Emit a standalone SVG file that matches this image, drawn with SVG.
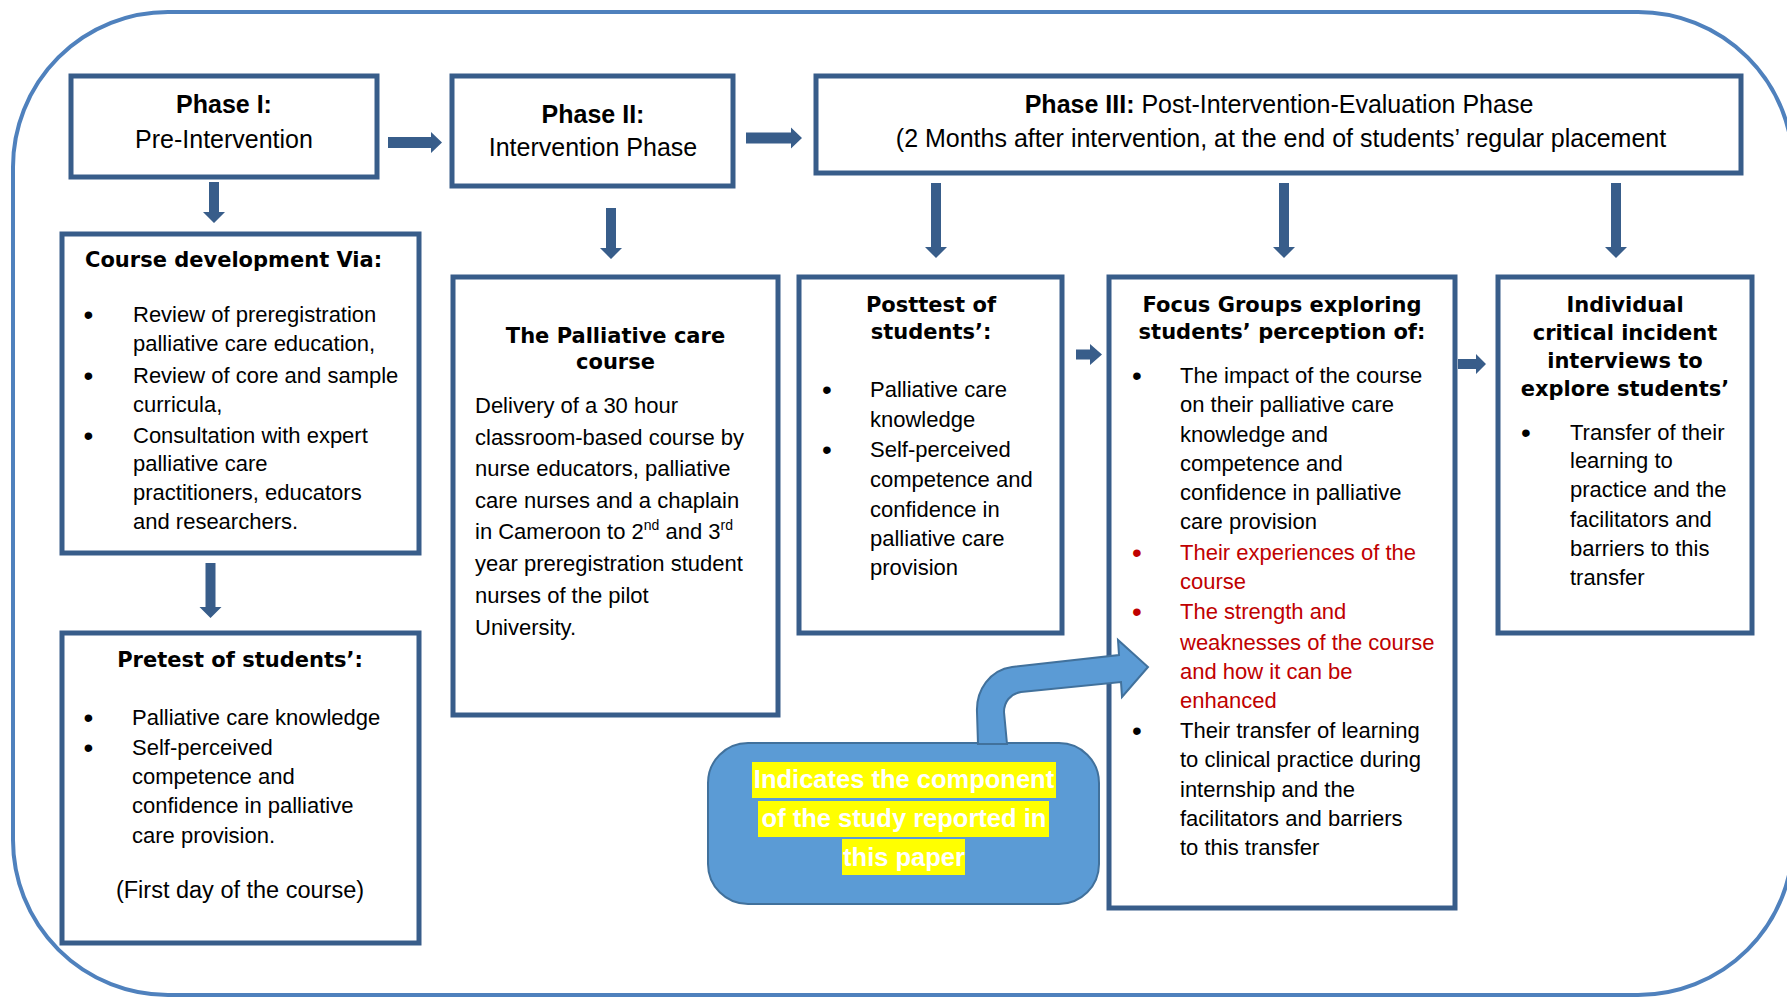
<svg xmlns="http://www.w3.org/2000/svg" width="1787" height="997" viewBox="0 0 1787 997">
<style>
.box{fill:#ffffff;stroke:#385d8a;stroke-width:5}
.arr{fill:#385d8a;stroke:none}
.ph{font-family:"Liberation Sans",Arial,sans-serif;font-size:25px;fill:#000;text-anchor:middle}
.phb{font-weight:bold}
.hd{font-family:"DejaVu Sans",Verdana,sans-serif;font-weight:bold;font-size:21px;fill:#000}
.c{text-anchor:middle}
.tx{font-family:"Liberation Sans",Arial,sans-serif;font-size:22px;fill:#000}
.bu{font-size:28px}
.red{fill:#c00000}
.cal{font-family:"Liberation Sans",Arial,sans-serif;font-weight:bold;font-size:25.5px;fill:#ffffff;text-anchor:middle}
.hl{fill:#ffff00}
</style>
<rect x="0" y="0" width="1787" height="997" fill="#ffffff"/>
<rect id="frame" x="13" y="12" width="1780" height="983" rx="155" ry="155" fill="none" stroke="#4f81bd" stroke-width="4"/>

<g id="phase1">
  <rect class="box" x="71" y="76" width="306" height="101"/>
  <text class="ph phb" x="224" y="113">Phase I:</text>
  <text class="ph" x="224" y="148">Pre-Intervention</text>
</g>

<g id="phase2">
  <rect class="box" x="452" y="76" width="281" height="110"/>
  <text class="ph phb" x="593" y="123">Phase II:</text>
  <text class="ph" x="593" y="156">Intervention Phase</text>
</g>

<g id="phase3">
  <rect class="box" x="816" y="76" width="925" height="97"/>
  <text class="ph" x="1279" y="113"><tspan font-weight="bold">Phase III:</tspan> Post-Intervention-Evaluation Phase</text>
  <text class="ph" x="1281" y="147">(2 Months after intervention, at the end of students’ regular placement</text>
</g>

<g id="course-development">
  <rect class="box" x="62" y="234" width="357" height="319"/>
  <text class="hd" x="85" y="267">Course development Via:</text>
  <g class="tx">
    <text class="bu" x="83.6" y="324">•</text>
    <text x="133" y="322">Review of preregistration</text>
    <text x="133" y="351">palliative care education,</text>
    <text class="bu" x="83.6" y="384.5">•</text>
    <text x="133" y="382.5">Review of core and sample</text>
    <text x="133" y="412">curricula,</text>
    <text class="bu" x="83.6" y="444.5">•</text>
    <text x="133" y="442.5">Consultation with expert</text>
    <text x="133" y="471">palliative care</text>
    <text x="133" y="500">practitioners, educators</text>
    <text x="133" y="529">and researchers.</text>
  </g>
</g>

<g id="pretest">
  <rect class="box" x="62" y="633" width="357" height="310"/>
  <text class="hd c" x="240" y="667">Pretest of students’:</text>
  <g class="tx">
    <text class="bu" x="83.6" y="727">•</text>
    <text x="132" y="725">Palliative care knowledge</text>
    <text class="bu" x="83.6" y="757">•</text>
    <text x="132" y="755">Self-perceived</text>
    <text x="132" y="784">competence and</text>
    <text x="132" y="813">confidence in palliative</text>
    <text x="132" y="843">care provision.</text>
    <text x="240" y="898" text-anchor="middle" font-size="23.5">(First day of the course)</text>
  </g>
</g>

<g id="palliative-course">
  <rect class="box" x="453" y="277" width="325" height="438"/>
  <text class="hd c" x="615.5" y="343">The Palliative care</text>
  <text class="hd c" x="615.5" y="369">course</text>
  <g class="tx">
    <text x="475" y="413">Delivery of a 30 hour</text>
    <text x="475" y="445">classroom-based course by</text>
    <text x="475" y="476">nurse educators, palliative</text>
    <text x="475" y="508">care nurses and a chaplain</text>
    <text x="475" y="539">in Cameroon to 2<tspan font-size="14" dy="-9">nd</tspan><tspan dy="9"> and 3</tspan><tspan font-size="14" dy="-9">rd</tspan></text>
    <text x="475" y="571">year preregistration student</text>
    <text x="475" y="603">nurses of the pilot</text>
    <text x="475" y="635">University.</text>
  </g>
</g>

<g id="posttest">
  <rect class="box" x="799" y="277" width="263" height="356"/>
  <text class="hd c" x="931" y="312">Posttest of</text>
  <text class="hd c" x="931" y="339">students’:</text>
  <g class="tx">
    <text class="bu" x="822" y="399">•</text>
    <text x="870" y="397">Palliative care</text>
    <text x="870" y="427">knowledge</text>
    <text class="bu" x="822" y="459">•</text>
    <text x="870" y="457">Self-perceived</text>
    <text x="870" y="487">competence and</text>
    <text x="870" y="517">confidence in</text>
    <text x="870" y="546">palliative care</text>
    <text x="870" y="575">provision</text>
  </g>
</g>

<g id="focus-groups">
  <rect class="box" x="1109" y="277" width="346" height="631"/>
  <text class="hd c" x="1282" y="312">Focus Groups exploring</text>
  <text class="hd c" x="1282" y="339">students’ perception of:</text>
  <g class="tx">
    <text class="bu" x="1132" y="385">•</text>
    <text x="1180" y="383">The impact of the course</text>
    <text x="1180" y="412">on their palliative care</text>
    <text x="1180" y="442">knowledge and</text>
    <text x="1180" y="471">competence and</text>
    <text x="1180" y="500">confidence in palliative</text>
    <text x="1180" y="529">care provision</text>
    <text class="bu red" x="1132" y="562">•</text>
    <text class="red" x="1180" y="560">Their experiences of the</text>
    <text class="red" x="1180" y="589">course</text>
    <text class="bu red" x="1132" y="621">•</text>
    <text class="red" x="1180" y="619">The strength and</text>
    <text class="red" x="1180" y="650">weaknesses of the course</text>
    <text class="red" x="1180" y="679">and how it can be</text>
    <text class="red" x="1180" y="708">enhanced</text>
    <text class="bu" x="1132" y="740">•</text>
    <text x="1180" y="738">Their transfer of learning</text>
    <text x="1180" y="767">to clinical practice during</text>
    <text x="1180" y="797">internship and the</text>
    <text x="1180" y="826">facilitators and barriers</text>
    <text x="1180" y="855">to this transfer</text>
  </g>
</g>

<g id="interviews">
  <rect class="box" x="1498" y="277" width="254" height="356"/>
  <text class="hd c" x="1625" y="312">Individual</text>
  <text class="hd c" x="1625" y="340">critical incident</text>
  <text class="hd c" x="1625" y="368">interviews to</text>
  <text class="hd c" x="1625" y="396">explore students’</text>
  <g class="tx">
    <text class="bu" x="1521" y="442">•</text>
    <text x="1570" y="440">Transfer of their</text>
    <text x="1570" y="468">learning to</text>
    <text x="1570" y="497">practice and the</text>
    <text x="1570" y="527">facilitators and</text>
    <text x="1570" y="556">barriers to this</text>
    <text x="1570" y="585">transfer</text>
  </g>
</g>

<g id="callout">
  <rect x="708" y="743" width="391" height="161" rx="40" ry="40" fill="#5b9bd5" stroke="#41719c" stroke-width="2"/>
  <rect class="hl" x="752" y="762" width="304" height="36"/>
  <rect class="hl" x="758" y="801" width="291" height="36"/>
  <rect class="hl" x="842" y="839" width="123" height="36"/>
  <text class="cal" x="904" y="788">Indicates the component</text>
  <text class="cal" x="904" y="827">of the study reported in</text>
  <text class="cal" x="904" y="866">this paper</text>
</g>

<g id="connectors">
  <polygon class="arr" points="388,137 431,137 431,132 442,142.5 431,153 431,148 388,148"/>
  <polygon class="arr" points="746,132.5 791,132.5 791,127.5 802,138 791,148.5 791,143.5 746,143.5"/>
  <polygon class="arr" points="209,182 219,182 219,212 225,212 214,223 203,212 209,212"/>
  <polygon class="arr" points="606,208 616,208 616,248 622,248 611,259 600,248 606,248"/>
  <polygon class="arr" points="931,183 941,183 941,247 947,247 936,258 925,247 931,247"/>
  <polygon class="arr" points="1279,183 1289,183 1289,247 1295,247 1284,258 1273,247 1279,247"/>
  <polygon class="arr" points="1611,183 1621,183 1621,247 1627,247 1616,258 1605,247 1611,247"/>
  <polygon class="arr" points="205.5,563 215.5,563 215.5,607 221.5,607 210.5,618 199.5,607 205.5,607"/>
  <polygon class="arr" points="1076,349.5 1090,349.5 1090,344 1102,354.5 1090,365 1090,359.5 1076,359.5"/>
  <polygon class="arr" points="1458,359 1476,359 1476,354 1486,364 1476,374 1476,369 1458,369"/>
  <path d="M978,744 L977,712 C976,690 990,670 1012,667 L1119,655 L1118,640 L1148,667 L1122,697 L1121,682 L1021,692 C1010,694 1004,702 1004,712 L1007,744 Z" fill="#5b9bd5" stroke="#41719c" stroke-width="2"/>
</g>
</svg>
